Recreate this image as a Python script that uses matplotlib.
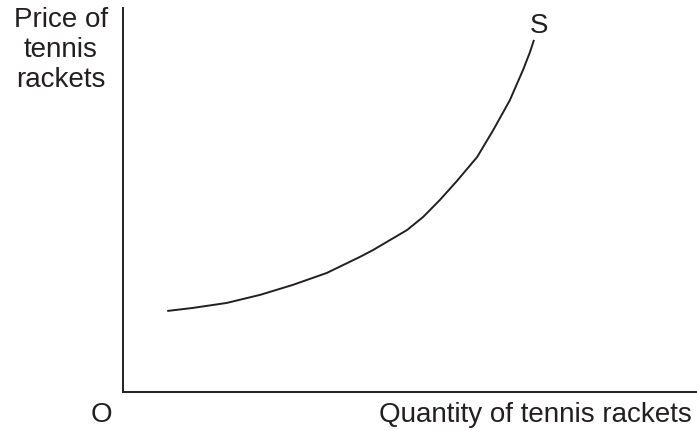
import matplotlib
matplotlib.use("Agg")
import matplotlib.pyplot as plt

# Supply curve (axes run 0..100 on both scales)
quantity = [7.7, 12.2, 18.1, 23.9, 29.6, 35.5, 41.3, 43.6, 49.5, 52.3,
            55.2, 58.2, 61.7, 64.5, 67.4, 69.7, 70.9, 71.6]
price = [21.1, 21.9, 23.2, 25.3, 27.9, 31.0, 35.2, 37.0, 42.2, 45.6,
         50.0, 55.0, 61.2, 68.2, 76.0, 83.9, 88.5, 91.7]

ink = "#231f20"
W, H = 697, 430

plt.rcParams["font.family"] = ["Liberation Sans", "DejaVu Sans"]

fig = plt.figure(figsize=(W / 100, H / 100), dpi=100)
ax = fig.add_axes([123 / W, (H - 392) / H, (W - 123) / W, (392 - 8) / H])
ax.set_xlim(0, 100)
ax.set_ylim(0, 100)

ax.plot(quantity, price, color=ink, linewidth=1.4, solid_capstyle="butt",
        solid_joinstyle="round")

for side in ["top", "right"]:
    ax.spines[side].set_visible(False)
for side in ["left", "bottom"]:
    ax.spines[side].set_color(ink)
    ax.spines[side].set_linewidth(1.4)
ax.set_xticks([])
ax.set_yticks([])

fs = 20
ax.text(quantity[-1] + 0.8, 100 * (392 - 33) / 384, "S", fontsize=fs,
        color=ink, ha="center", va="baseline")
fig.text(61 / W, 1 - 7 / H, "Price of\ntennis\nrackets", fontsize=fs,
         color=ink, ha="center", va="top", multialignment="center")
fig.text(101.5 / W, 1 - 422 / H, "O", fontsize=fs, color=ink,
         ha="center", va="baseline")
fig.text(692 / W, 1 - 422 / H, "Quantity of tennis rackets", fontsize=fs,
         color=ink, ha="right", va="baseline")

fig.savefig("out.png", dpi=100)
